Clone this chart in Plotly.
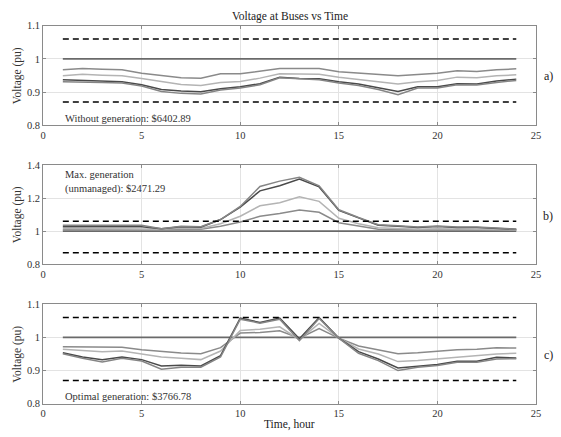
import plotly.graph_objects as go

hours = list(range(1, 25))

# Panel a) without generation
a_bus2 = [0.967, 0.971, 0.969, 0.967, 0.957, 0.951, 0.943, 0.942, 0.955, 0.955, 0.962, 0.971,
          0.971, 0.971, 0.961, 0.957, 0.954, 0.949, 0.953, 0.957, 0.964, 0.962, 0.967, 0.970]
a_bus3 = [0.949, 0.954, 0.951, 0.949, 0.941, 0.932, 0.923, 0.920, 0.929, 0.932, 0.942, 0.955,
          0.955, 0.954, 0.945, 0.939, 0.931, 0.924, 0.931, 0.935, 0.945, 0.943, 0.949, 0.952]
a_bus4 = [0.937, 0.935, 0.933, 0.931, 0.922, 0.908, 0.903, 0.901, 0.910, 0.916, 0.925, 0.945,
          0.941, 0.940, 0.931, 0.924, 0.913, 0.902, 0.916, 0.916, 0.925, 0.924, 0.933, 0.939]
a_bus5 = [0.931, 0.931, 0.929, 0.927, 0.918, 0.902, 0.896, 0.894, 0.906, 0.912, 0.922, 0.943,
          0.939, 0.937, 0.927, 0.920, 0.908, 0.892, 0.912, 0.912, 0.922, 0.921, 0.929, 0.935]

# Panel b) max generation (unmanaged)
b_bus2 = [1.008, 1.008, 1.008, 1.008, 1.008, 1.010, 1.012, 1.012, 1.030, 1.055, 1.090, 1.106,
          1.127, 1.114, 1.051, 1.030, 1.012, 1.010, 1.008, 1.010, 1.008, 1.008, 1.006, 1.005]
b_bus3 = [1.016, 1.016, 1.016, 1.016, 1.016, 1.012, 1.018, 1.016, 1.045, 1.090, 1.153, 1.172,
          1.208, 1.180, 1.078, 1.045, 1.020, 1.016, 1.012, 1.015, 1.012, 1.012, 1.010, 1.008]
b_bus4 = [1.027, 1.027, 1.027, 1.027, 1.027, 1.015, 1.026, 1.024, 1.070, 1.145, 1.243, 1.274,
          1.314, 1.267, 1.125, 1.080, 1.036, 1.030, 1.022, 1.028, 1.022, 1.022, 1.016, 1.012]
b_bus5 = [1.035, 1.035, 1.035, 1.035, 1.035, 1.015, 1.030, 1.027, 1.070, 1.149, 1.270, 1.302,
          1.325, 1.274, 1.129, 1.082, 1.039, 1.033, 1.025, 1.031, 1.025, 1.025, 1.018, 1.012]

# Panel c) optimal generation
c_bus2 = [0.972, 0.972, 0.970, 0.970, 0.963, 0.957, 0.953, 0.951, 0.969, 1.013, 1.015, 1.020,
          0.998, 1.027, 0.998, 0.974, 0.962, 0.951, 0.954, 0.959, 0.963, 0.964, 0.969, 0.968]
c_bus3 = [0.964, 0.961, 0.957, 0.959, 0.951, 0.941, 0.937, 0.933, 0.959, 1.021, 1.025, 1.032,
          0.993, 1.042, 0.998, 0.965, 0.950, 0.927, 0.930, 0.935, 0.940, 0.943, 0.950, 0.952]
c_bus4 = [0.954, 0.941, 0.933, 0.941, 0.933, 0.914, 0.916, 0.914, 0.945, 1.058, 1.045, 1.058,
          0.996, 1.060, 0.998, 0.957, 0.935, 0.908, 0.913, 0.918, 0.928, 0.928, 0.940, 0.938]
c_bus5 = [0.951, 0.937, 0.926, 0.937, 0.929, 0.904, 0.910, 0.910, 0.941, 1.055, 1.043, 1.055,
          0.990, 1.057, 0.998, 0.952, 0.930, 0.900, 0.910, 0.915, 0.925, 0.925, 0.935, 0.936]

slack_v = [1.0, 1.0]
upper_lim = [1.06, 1.06]
lower_lim = [0.87, 0.87]
lim_x = [1, 24]

x_ticks = [0, 5, 10, 15, 20, 25]
y_ticks_a = [0.8, 0.9, 1.0, 1.1]
y_ticks_b = [0.8, 1.0, 1.2, 1.4]
y_ticks_c = [0.8, 0.9, 1.0, 1.1]

panel_labels = ["a)", "b)", "c)"]
panel_notes = ["Without generation: $6402.89",
               "Max. generation<br>(unmanaged): $2471.29",
               "Optimal generation: $3766.78"]

colors = ["#8a8a8a", "#b4b4b4", "#4a4a4a", "#858585"]
slack_color = "#6a6a6a"
FONT = "Liberation Serif, Times New Roman, serif"

W, H = 561, 437
xl, xr = 40.7, 540.7
panels_px = [(21.3, 123.3), (164.0, 266.0), (307.0, 409.0)]
data = [
    [a_bus2, a_bus3, a_bus4, a_bus5],
    [b_bus2, b_bus3, b_bus4, b_bus5],
    [c_bus2, c_bus3, c_bus4, c_bus5],
]
yranges = [[0.8, 1.1], [0.8, 1.4], [0.8, 1.1]]
yticks = [y_ticks_a, y_ticks_b, y_ticks_c]
ytexts = [["0.8", "0.9", "1", "1.1"], ["0.8", "1", "1.2", "1.4"], ["0.8", "0.9", "1", "1.1"]]

fig = go.Figure()
annotations = []
for i in range(3):
    sfx = "" if i == 0 else str(i + 1)
    xa, ya = "x" + sfx, "y" + sfx
    fig.add_trace(go.Scatter(x=lim_x, y=slack_v, mode="lines", xaxis=xa, yaxis=ya,
                             line=dict(color=slack_color, width=1.6), showlegend=False))
    for s, c in zip(data[i], colors):
        fig.add_trace(go.Scatter(x=hours, y=s, mode="lines", xaxis=xa, yaxis=ya,
                                 line=dict(color=c, width=1.5), showlegend=False))
    for lim in (upper_lim, lower_lim):
        fig.add_trace(go.Scatter(x=lim_x, y=lim, mode="lines", xaxis=xa, yaxis=ya,
                                 line=dict(color="black", width=1.6, dash="6px,4px"),
                                 showlegend=False))
    top, bot = panels_px[i]
    axcommon = dict(showline=True, linecolor="#8a8a8a", linewidth=1, mirror="ticks",
                    ticks="inside", ticklen=3, tickcolor="#8a8a8a",
                    showgrid=True, gridcolor="#e3e3e3", gridwidth=1, zeroline=False,
                    tickfont=dict(family=FONT, size=10.5, color="#333333"))
    fig.update_layout(**{
        "xaxis" + sfx: dict(domain=[xl / W, xr / W], range=[0, 25], tickvals=x_ticks,
                            anchor=ya, **axcommon),
        "yaxis" + sfx: dict(domain=[1 - bot / H, 1 - top / H], range=yranges[i],
                            tickvals=yticks[i], ticktext=ytexts[i], anchor=xa, **axcommon),
    })
    # Y title
    annotations.append(dict(text="Voltage (pu)", x=15 / W, y=1 - (top + bot) / 2 / H,
                            xref="paper", yref="paper", textangle=-90, showarrow=False,
                            font=dict(family=FONT, size=11.5, color="#333333"),
                            xanchor="center", yanchor="middle"))
    annotations.append(dict(text=panel_labels[i], x=553 / W, y=1 - (top + 52) / H,
                            xref="paper", yref="paper", showarrow=False,
                            font=dict(family=FONT, size=12, color="#222222"),
                            xanchor="center", yanchor="middle"))

annotations.append(dict(text=panel_notes[0], x=61 / W, y=1 - 116 / H, xref="paper", yref="paper",
                        showarrow=False, xanchor="left", yanchor="middle",
                        font=dict(family=FONT, size=10.5, color="#333333")))
annotations.append(dict(text=panel_notes[1], x=61 / W, y=1 - 181.5 / H, xref="paper", yref="paper",
                        showarrow=False, xanchor="left", yanchor="middle", align="left",
                        font=dict(family=FONT, size=10.5, color="#333333")))
annotations.append(dict(text=panel_notes[2], x=61 / W, y=1 - 402 / H, xref="paper", yref="paper",
                        showarrow=False, xanchor="left", yanchor="middle",
                        font=dict(family=FONT, size=10.5, color="#333333")))
annotations.append(dict(text="Voltage at Buses vs Time", x=(xl + xr) / 2 / W, y=1 - 12 / H,
                        xref="paper", yref="paper", showarrow=False, xanchor="center",
                        yanchor="middle", font=dict(family=FONT, size=11.5, color="#222222")))
annotations.append(dict(text="Time, hour", x=(xl + xr) / 2 / W, y=1 - 430 / H,
                        xref="paper", yref="paper", showarrow=False, xanchor="center",
                        yanchor="middle", font=dict(family=FONT, size=11.5, color="#222222")))

fig.update_layout(width=W, height=H, margin=dict(l=0, r=0, t=0, b=0),
                  plot_bgcolor="white", paper_bgcolor="white", annotations=annotations)
fig.write_html("out.html")
